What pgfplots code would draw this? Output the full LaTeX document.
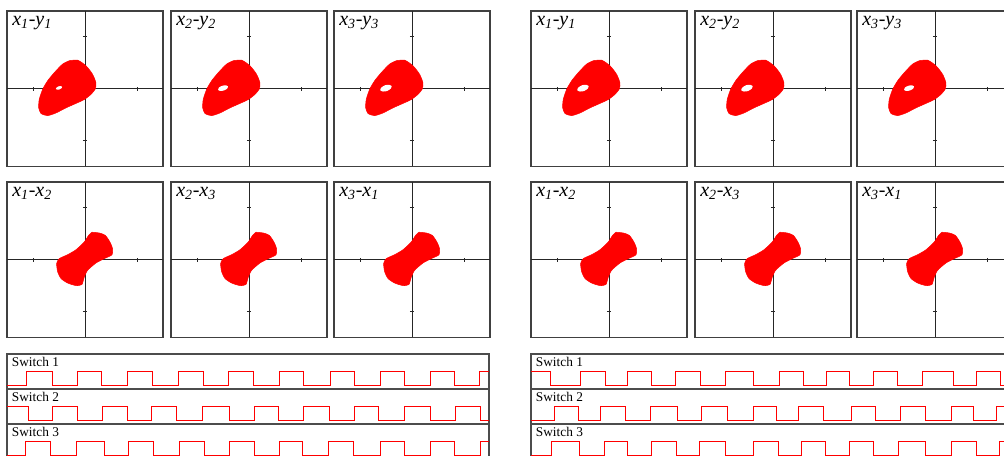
\documentclass[border=0pt]{standalone}
\usepackage{fontspec}
\setmainfont{Liberation Serif}
\usepackage{pgfplots}
\usepackage{pgfplotstable}
\pgfplotsset{compat=1.18}

% outline of the x_i-y_i attractor
\pgfplotstableread{
x y
-0.60 1.08
-0.28 1.10
0.04 0.88
0.29 0.56
0.42 0.23
0.40 0.00
0.23 -0.22
-0.03 -0.42
-0.35 -0.57
-0.73 -0.74
-1.12 -0.94
-1.44 -1.04
-1.69 -0.96
-1.78 -0.74
-1.76 -0.42
-1.63 -0.03
-1.44 0.30
-1.18 0.62
-0.86 0.95
-0.60 1.08
}\xyshape

% holes in it
\pgfplotstableread{
x y
-0.88 0.07
-0.93 0.10
-1.02 0.09
-1.10 0.04
-1.12 -0.01
-1.07 -0.04
-0.98 -0.03
-0.90 0.02
-0.88 0.07
}\holeS
\pgfplotstableread{
x y
-0.81 0.09
-0.89 0.13
-1.03 0.11
-1.16 0.04
-1.19 -0.05
-1.11 -0.09
-0.97 -0.07
-0.84 0.00
-0.81 0.09
}\holeM
\pgfplotstableread{
x y
-0.78 0.10
-0.88 0.15
-1.04 0.13
-1.18 0.04
-1.22 -0.06
-1.12 -0.11
-0.96 -0.09
-0.82 0.00
-0.78 0.10
}\holeL

% outline of the x_i-x_j attractor
\pgfplotstableread{
x y
0.27 1.06
0.55 1.03
0.78 0.94
0.96 0.68
1.06 0.42
1.04 0.19
0.74 0.04
0.42 -0.13
0.10 -0.41
-0.03 -0.68
-0.12 -0.96
-0.35 -1.00
-0.67 -0.90
-0.92 -0.73
-1.05 -0.47
-1.09 -0.15
-0.99 0.04
-0.67 0.19
-0.35 0.38
-0.03 0.68
0.14 0.94
0.27 1.06
}\xxshape

% switch signals, x in pixels
\pgfplotstableread{
x y
7 0
26.7 1
52.3 0
77.7 1
101.7 0
127.7 1
152.7 0
178.3 1
203.3 0
228.3 1
253.3 0
279.3 1
303.3 0
330 1
354.3 0
380 1
404.3 0
430 1
454 0
479.3 1
489 1
}\swLa
\pgfplotstableread{
x y
7 1
28.3 0
52.3 1
77.7 0
102.3 1
127.7 0
151.7 1
176.7 0
202.3 1
229.3 0
254.3 1
278.3 0
303.3 1
329 0
354.3 1
378.3 0
404.3 1
430 0
455 1
480 0
489 0
}\swLb
\pgfplotstableread{
x y
7 0
26 1
50.7 0
76.7 1
104.3 0
128.3 1
153.3 0
179 1
204 0
229.3 1
254.3 0
279.3 1
302.3 0
328.3 1
353.3 0
380 1
404.3 0
430 1
454 0
480 1
489 1
}\swLc
\pgfplotstableread{
x y
531 1
550.7 0
580.7 1
605 0
627.7 1
651 0
675.7 1
700 0
725.7 1
753.3 0
779.3 1
803.3 0
826 1
849.3 0
873.3 1
897.7 0
922.7 1
953.3 0
976.7 1
1000 0
1014 0
}\swRa
\pgfplotstableread{
x y
531 0
554 1
578.3 0
600.7 1
625 0
650.7 1
677.7 0
701.7 1
727.7 0
753.3 1
776 0
798.3 1
823.3 0
851.7 1
875 0
900 1
925.7 0
951 1
973.3 0
996.7 1
1014 1
}\swRb
\pgfplotstableread{
x y
531 0
551.7 1
579.3 0
604.3 1
627.3 0
651 1
676 0
699.3 1
725 0
753.3 1
778.3 0
801.7 1
825 0
849.3 1
873.3 0
898.3 1
925 0
951 1
976.7 0
999.3 1
1014 1
}\swRc

\pgfplotsset{
  phase/.style={scale only axis, width=117pt, height=116.5pt,
    xmin=-3, xmax=3, ymin=-3, ymax=3, xtick=\empty, ytick=\empty,
    axis line style={black!75, line width=0.8pt}, anchor=north west},
  strip/.style={scale only axis, height=26.25pt, ymin=-0.286, ymax=2.214,
    xtick=\empty, ytick=\empty,
    axis line style={black!70, line width=0.8pt}, anchor=north west},
  blob/.style={fill=red, draw=red, line width=0.4pt, smooth, tension=0.4},
  hole/.style={fill=white, draw=none, smooth, tension=0.5},
  wave/.style={red, line width=0.75pt, const plot},
}

\newcommand\cross{%
  \draw[black!85, line width=0.7pt] (axis cs:-3,0) -- (axis cs:3,0)
    (axis cs:0,-3) -- (axis cs:0,3)
    ([yshift=-1.6pt]axis cs:-2,0) -- ([yshift=1.6pt]axis cs:-2,0)
    ([yshift=-1.6pt]axis cs:2,0) -- ([yshift=1.6pt]axis cs:2,0)
    ([xshift=-1.6pt]axis cs:0,-2) -- ([xshift=1.6pt]axis cs:0,-2)
    ([xshift=-1.6pt]axis cs:0,2) -- ([xshift=1.6pt]axis cs:0,2);}
\newcommand\ttl[4]{%
  \node[anchor=base west, inner sep=0pt, font=\fontsize{15}{15}\selectfont\itshape]
    at ([xshift=3.75pt, yshift=-11pt]rel axis cs:0,1)
    {#1\textsubscript{#2}-#3\textsubscript{#4}};}
\newcommand\swl[1]{%
  \node[anchor=base west, inner sep=0pt, font=\fontsize{10}{10}\selectfont]
    at ([xshift=3.5pt, yshift=-9.5pt]rel axis cs:0,1) {Switch #1};}

\begin{document}
\begin{tikzpicture}
% ---- left half, top row
\begin{axis}[phase, at={(5.25pt,-8.25pt)}]
\cross
\addplot[blob] table {\xyshape};
\addplot[hole] table {\holeS};
\ttl{x}{1}{y}{1}
\end{axis}
\begin{axis}[phase, at={(128.25pt,-8.25pt)}]
\cross
\addplot[blob] table {\xyshape};
\addplot[hole] table {\holeM};
\ttl{x}{2}{y}{2}
\end{axis}
\begin{axis}[phase, at={(250.5pt,-8.25pt)}]
\cross
\addplot[blob] table {\xyshape};
\addplot[hole] table {\holeL};
\ttl{x}{3}{y}{3}
\end{axis}
% ---- left half, bottom row
\begin{axis}[phase, at={(5.25pt,-136.5pt)}]
\cross
\addplot[blob] table {\xxshape};
\ttl{x}{1}{x}{2}
\end{axis}
\begin{axis}[phase, at={(128.25pt,-136.5pt)}]
\cross
\addplot[blob] table {\xxshape};
\ttl{x}{2}{x}{3}
\end{axis}
\begin{axis}[phase, at={(250.5pt,-136.5pt)}]
\cross
\addplot[blob] table {\xxshape};
\ttl{x}{3}{x}{1}
\end{axis}
% ---- right half, top row
\begin{axis}[phase, at={(398.25pt,-8.25pt)}]
\cross
\addplot[blob] table {\xyshape};
\addplot[hole] table {\holeL};
\ttl{x}{1}{y}{1}
\end{axis}
\begin{axis}[phase, at={(521.25pt,-8.25pt)}]
\cross
\addplot[blob] table {\xyshape};
\addplot[hole] table {\holeL};
\ttl{x}{2}{y}{2}
\end{axis}
\begin{axis}[phase, at={(642.75pt,-8.25pt)}]
\cross
\addplot[blob] table {\xyshape};
\addplot[hole] table {\holeM};
\ttl{x}{3}{y}{3}
\end{axis}
% ---- right half, bottom row
\begin{axis}[phase, at={(398.25pt,-136.5pt)}]
\cross
\addplot[blob] table {\xxshape};
\ttl{x}{1}{x}{2}
\end{axis}
\begin{axis}[phase, at={(521.25pt,-136.5pt)}]
\cross
\addplot[blob] table {\xxshape};
\ttl{x}{2}{x}{3}
\end{axis}
\begin{axis}[phase, at={(642.75pt,-136.5pt)}]
\cross
\addplot[blob] table {\xxshape};
\ttl{x}{3}{x}{1}
\end{axis}
% ---- switch strips, left
\begin{axis}[strip, width=361.5pt, xmin=7, xmax=489, at={(5.25pt,-265.5pt)}]
\addplot[wave] table {\swLa};
\swl{1}
\end{axis}
\begin{axis}[strip, width=361.5pt, xmin=7, xmax=489, at={(5.25pt,-291.75pt)}]
\addplot[wave] table {\swLb};
\swl{2}
\end{axis}
\begin{axis}[strip, width=361.5pt, xmin=7, xmax=489, at={(5.25pt,-318pt)}]
\addplot[wave] table {\swLc};
\swl{3}
\end{axis}
% ---- switch strips, right
\begin{axis}[strip, width=362.25pt, xmin=531, xmax=1014, at={(398.25pt,-265.5pt)}]
\addplot[wave] table {\swRa};
\swl{1}
\end{axis}
\begin{axis}[strip, width=362.25pt, xmin=531, xmax=1014, at={(398.25pt,-291.75pt)}]
\addplot[wave] table {\swRb};
\swl{2}
\end{axis}
\begin{axis}[strip, width=362.25pt, xmin=531, xmax=1014, at={(398.25pt,-318pt)}]
\addplot[wave] table {\swRc};
\swl{3}
\end{axis}
\pgfresetboundingbox
\useasboundingbox (0,0) rectangle (753pt,-341.25pt);
\end{tikzpicture}
\end{document}
